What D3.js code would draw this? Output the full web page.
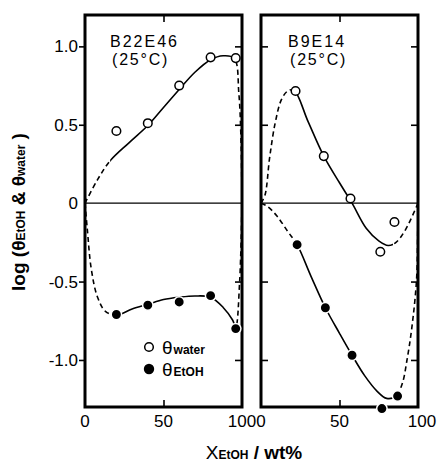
<!DOCTYPE html>
<html><head><meta charset="utf-8">
<script src="https://cdn.jsdelivr.net/npm/d3@7"></script>
<style>
body{margin:0;background:#fff;}
svg{display:block;}
text{font-family:"Liberation Sans",Arial,sans-serif;fill:#000;}
</style></head>
<body><svg id="c" width="437" height="465"></svg>
<script>
// ---- data ----
const xTicks = [0, 50, 100];
const xTickLabels = ["0", "50", "100"];
const yTicks = [-1.0, -0.5, 0, 0.5, 1.0];
const yTickLabels = ["-1.0", "-0.5", "0", "0.5", "1.0"];
const panelNames = ["B22E46", "B9E14"];
const panelTemps = ["(25°C)", "(25°C)"];

// B22E46 measured points
const aWaterX = [20, 40, 60, 80, 96];
const aWaterY = [0.46, 0.51, 0.75, 0.93, 0.925];
const aEtohX = [20, 40, 60, 80, 96];
const aEtohY = [-0.71, -0.65, -0.63, -0.59, -0.80];
// B9E14 measured points
const bWaterX = [22, 40, 57, 76, 85];
const bWaterY = [0.715, 0.30, 0.03, -0.31, -0.12];
const bEtohX = [23, 41, 58, 77, 87];
const bEtohY = [-0.265, -0.667, -0.97, -1.31, -1.23];

// hand-drawn guide curves, solid part range
const aWaterCurve = [[0,0],[8,0.15],[16,0.27],[28,0.385],[40,0.495],[50,0.61],[60,0.725],[70,0.835],[80,0.915],[88,0.94],[95,0.925],[98,0.7],[99.5,0.35],[100,0]];
const aWaterSolid = [16, 95];
const aEtohCurve = [[0,0],[1.5,-0.17],[4,-0.42],[8,-0.6],[13,-0.69],[20,-0.715],[30,-0.675],[40,-0.645],[50,-0.615],[60,-0.6],[70,-0.592],[80,-0.6],[88,-0.665],[94,-0.745],[96,-0.79],[98.5,-0.5],[100,0]];
const aEtohSolid = [20, 96];
const bWaterCurve = [[0,0],[2.5,0.05],[5.5,0.29],[9,0.51],[13,0.66],[17,0.715],[21,0.72],[30,0.52],[40,0.30],[50,0.13],[58,0.0],[67,-0.16],[75,-0.24],[81,-0.27],[86,-0.25],[92,-0.17],[100,0]];
const bWaterSolid = [21, 84];
const bEtohCurve = [[0,0],[4,-0.02],[10,-0.08],[17,-0.18],[23,-0.265],[32,-0.47],[41,-0.667],[50,-0.83],[58,-0.97],[66,-1.1],[74,-1.2],[80,-1.245],[86,-1.23],[90,-1.15],[93,-1.0],[96,-0.8],[99,-0.5],[99.8,-0.2],[100,0]];
const bEtohSolid = [22, 86];

// ---- layout ----
const svg = d3.select("#c");
const topY = 15, bottomY = 407;
const panels = [
  {x0: 85, x1: 242, wX: aWaterX, wY: aWaterY, eX: aEtohX, eY: aEtohY,
   curves: [[aWaterCurve, aWaterSolid], [aEtohCurve, aEtohSolid]], name: panelNames[0], temp: panelTemps[0], tx: 110},
  {x0: 261, x1: 418, wX: bWaterX, wY: bWaterY, eX: bEtohX, eY: bEtohY,
   curves: [[bWaterCurve, bWaterSolid], [bEtohCurve, bEtohSolid]], name: panelNames[1], temp: panelTemps[1], tx: 288}
];
const y = d3.scaleLinear().domain([-1.3, 1.2]).range([bottomY, topY]);

panels.forEach((p, pi) => {
  const x = d3.scaleLinear().domain([0, 100]).range([p.x0, p.x1]);
  const g = svg.append("g");
  const line = d3.line().x(d => x(d[0])).y(d => y(d[1])).curve(d3.curveCatmullRom.alpha(0.5));

  // zero line
  g.append("line").attr("x1", x(0)).attr("x2", x(100)).attr("y1", y(0)).attr("y2", y(0))
    .attr("stroke", "#000").attr("stroke-width", 1.2);

  // curves
  p.curves.forEach((c, ci) => {
    const [pts, solid] = c;
    const id = "clip" + pi + "_" + ci;
    const defs = svg.append("defs");
    const cs = defs.append("clipPath").attr("id", id + "s");
    cs.append("rect").attr("x", x(solid[0])).attr("y", 0).attr("width", x(solid[1]) - x(solid[0])).attr("height", 465);
    const cd = defs.append("clipPath").attr("id", id + "d");
    cd.append("rect").attr("x", 0).attr("y", 0).attr("width", x(solid[0])).attr("height", 465);
    cd.append("rect").attr("x", x(solid[1])).attr("y", 0).attr("width", 437 - x(solid[1])).attr("height", 465);
    g.append("path").attr("d", line(pts)).attr("fill", "none").attr("stroke", "#000")
      .attr("stroke-width", 1.6).attr("clip-path", `url(#${id}s)`);
    g.append("path").attr("d", line(pts)).attr("fill", "none").attr("stroke", "#000")
      .attr("stroke-width", 1.6).attr("stroke-dasharray", "5,3.5").attr("clip-path", `url(#${id}d)`);
  });

  // axes ticks
  const axL = d3.axisLeft(y).tickValues(yTicks.filter(v => v !== 0)).tickSize(pi === 0 ? 6 : -7).tickFormat("");
  const axR = d3.axisRight(y).tickValues(yTicks.filter(v => v !== 0)).tickSize(-7).tickFormat("");
  const axB = d3.axisBottom(x).tickValues([50]).tickSize(-7).tickFormat("");
  const axT = d3.axisTop(x).tickValues([50]).tickSize(-7).tickFormat("");
  [[axL, `translate(${p.x0},0)`], [axR, `translate(${p.x1},0)`], [axB, `translate(0,${bottomY})`], [axT, `translate(0,${topY})`]]
    .forEach(([a, t]) => {
      const ag = g.append("g").attr("transform", t).call(a);
      ag.select(".domain").remove();
      ag.selectAll("line").attr("stroke", "#000").attr("stroke-width", 1.6);
    });

  // frame
  g.append("rect").attr("x", p.x0).attr("y", topY).attr("width", p.x1 - p.x0).attr("height", bottomY - topY)
    .attr("fill", "none").attr("stroke", "#000").attr("stroke-width", 3);

  // x tick labels
  xTicks.forEach((v, i) => {
    g.append("text").attr("x", x(v) + (pi === 1 && v === 100 ? 4 : 0)).attr("y", 427)
      .attr("text-anchor", "middle").attr("font-size", 17).text(xTickLabels[i]);
  });
  // y tick labels
  if (pi === 0) {
    yTicks.forEach((v, i) => {
      g.append("text").attr("x", 78).attr("y", y(v) + 6).attr("text-anchor", "end")
        .attr("font-size", 17).text(yTickLabels[i]);
    });
  }

  // panel titles
  g.append("text").attr("x", p.tx).attr("y", 47).attr("font-size", 16).attr("letter-spacing", 2).text(p.name);
  g.append("text").attr("x", p.tx + 2).attr("y", 65).attr("font-size", 16).attr("letter-spacing", 1.8).text(p.temp);

  // points
  p.wX.forEach((v, i) => {
    g.append("circle").attr("cx", x(v)).attr("cy", y(p.wY[i])).attr("r", 4.3)
      .attr("fill", "#fff").attr("stroke", "#000").attr("stroke-width", 1.5);
  });
  p.eX.forEach((v, i) => {
    g.append("circle").attr("cx", x(v)).attr("cy", y(p.eY[i])).attr("r", 5.2)
      .attr("fill", "#000").attr("stroke", "#fff").attr("stroke-width", 1.5);
  });
});

// legend
const leg = svg.append("g");
leg.append("circle").attr("cx", 149).attr("cy", 347).attr("r", 4.3).attr("fill", "#fff").attr("stroke", "#000").attr("stroke-width", 1.5);
leg.append("circle").attr("cx", 149).attr("cy", 369).attr("r", 5.2).attr("fill", "#000");
const t1 = leg.append("text").attr("x", 162).attr("y", 354).attr("font-size", 19);
t1.append("tspan").text("θ");
t1.append("tspan").attr("font-size", 12).attr("font-weight", "bold").attr("dx", 1).text("water");
const t2 = leg.append("text").attr("x", 162).attr("y", 376).attr("font-size", 19);
t2.append("tspan").text("θ");
t2.append("tspan").attr("font-size", 12).attr("font-weight", "bold").attr("dx", 1).text("EtOH");

// axis titles
const xt = svg.append("text").attr("x", 254).attr("y", 459).attr("text-anchor", "middle").attr("font-size", 19).attr("font-weight", "bold");
xt.append("tspan").attr("font-weight", "normal").text("X");
xt.append("tspan").attr("font-size", 12).text("EtOH");
xt.append("tspan").text(" / wt%");

const yt = svg.append("text").attr("transform", "translate(25,212) rotate(-90)").attr("text-anchor", "middle")
  .attr("font-size", 19).attr("font-weight", "bold");
yt.append("tspan").text("log (θ");
yt.append("tspan").attr("font-size", 12).text("EtOH");
yt.append("tspan").text(" & θ");
yt.append("tspan").attr("font-size", 12).text("water");
yt.append("tspan").text(" )");
</script></body></html>
